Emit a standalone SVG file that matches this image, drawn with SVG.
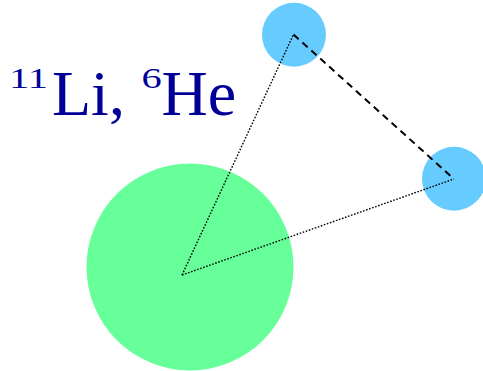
<svg xmlns="http://www.w3.org/2000/svg" width="483" height="371" viewBox="0 0 483 371">
<style>
.core{fill:#66FF99}
.halo{fill:#66CCFF}
.dot{stroke:#000;stroke-width:1.4;stroke-dasharray:1.6 1.6;fill:none}
.dash{stroke:#000;stroke-width:2;stroke-dasharray:7 5;fill:none}
.lbl{font-family:"Liberation Serif",serif;fill:#000099}
</style>
<rect width="483" height="371" fill="#fff"/>
<g id="core"><circle class="core" cx="190" cy="267" r="103.5"/></g>
<g id="n1"><circle class="halo" cx="294" cy="34.7" r="32"/></g>
<g id="n2"><circle class="halo" cx="454" cy="178.7" r="32"/></g>
<g id="connectors">
<line class="dot" x1="182" y1="275" x2="293.5" y2="34.5"/>
<line class="dot" x1="182" y1="275" x2="454" y2="179"/>
<line class="dash" x1="293.5" y1="34.5" x2="454" y2="179"/>
</g>
<g id="label">
<text class="lbl" font-size="30" transform="translate(9,88) scale(1.35,1)">11</text>
<text class="lbl" font-size="64" x="52" y="115">Li,</text>
<text class="lbl" font-size="30" transform="translate(141.5,88) scale(1.35,1)">6</text>
<text class="lbl" font-size="64" x="161.5" y="115">He</text>
</g>
</svg>
